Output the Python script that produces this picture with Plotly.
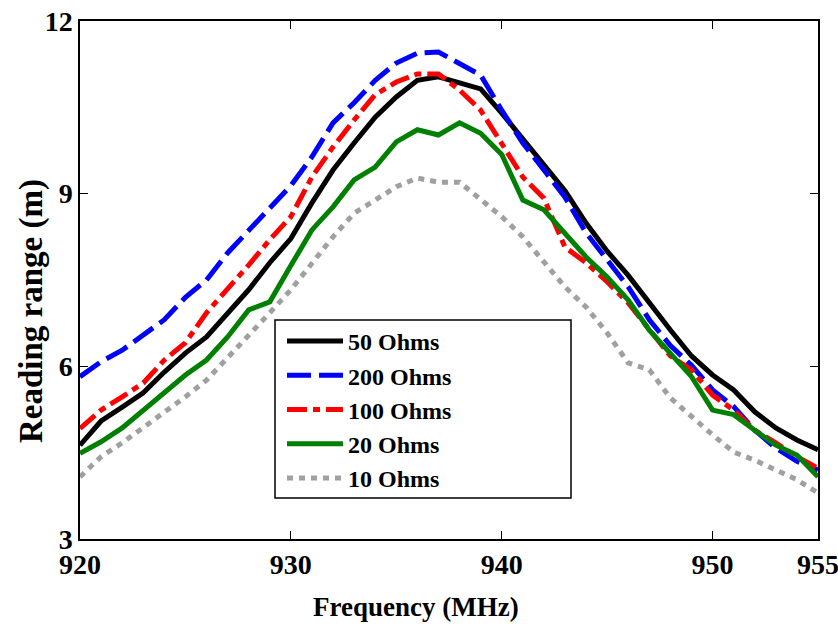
import plotly.graph_objects as go

freq = list(range(920, 956))

ohm50 = [4.63, 5.05, 5.29, 5.54, 5.90, 6.23, 6.51, 6.93, 7.33, 7.80, 8.22,
         8.84, 9.41, 9.88, 10.33, 10.68, 10.97, 11.03, 10.92, 10.82, 10.40,
         9.95, 9.53, 9.05, 8.49, 8.00, 7.58, 7.10, 6.63, 6.18, 5.85,
         5.59, 5.21, 4.93, 4.72, 4.55]
ohm200 = [5.82, 6.08, 6.28, 6.54, 6.81, 7.20, 7.50, 7.97, 8.37, 8.77, 9.14,
          9.64, 10.23, 10.58, 10.97, 11.27, 11.44, 11.46, 11.27, 11.06, 10.45,
          9.88, 9.41, 8.94, 8.32, 7.85, 7.38, 6.81, 6.36, 6.02, 5.59,
          5.30, 4.89, 4.58, 4.35, 4.20]
ohm100 = [4.92, 5.24, 5.47, 5.71, 6.11, 6.41, 6.93, 7.33, 7.76, 8.20, 8.60,
          9.29, 9.81, 10.28, 10.72, 10.94, 11.08, 11.08, 10.80, 10.45, 9.88,
          9.29, 8.92, 8.07, 7.80, 7.47, 7.10, 6.63, 6.18, 5.94, 5.50,
          5.24, 4.89, 4.67, 4.43, 4.23]
ohm20 = [4.49, 4.69, 4.93, 5.24, 5.55, 5.85, 6.11, 6.51, 6.98, 7.12, 7.75,
         8.37, 8.77, 9.24, 9.46, 9.90, 10.11, 10.02, 10.23, 10.05, 9.68,
         8.89, 8.72, 8.32, 7.90, 7.55, 7.15, 6.63, 6.23, 5.82, 5.24,
         5.16, 4.89, 4.63, 4.46, 4.08]
ohm10 = [4.08, 4.43, 4.67, 4.93, 5.19, 5.47, 5.76, 6.15, 6.51, 6.93, 7.33,
         7.80, 8.25, 8.66, 8.89, 9.12, 9.27, 9.20, 9.20, 8.89, 8.60,
         8.25, 7.80, 7.38, 7.03, 6.58, 6.06, 5.94, 5.45, 5.12, 4.81,
         4.51, 4.37, 4.20, 4.03, 3.80]

series = [
    ("50 Ohms", ohm50, "black", "solid"),
    ("200 Ohms", ohm200, "#0000ff", "24px,8px"),
    ("100 Ohms", ohm100, "#ff0000", "20px,6px,7px,6px"),
    ("20 Ohms", ohm20, "#008000", "solid"),
    ("10 Ohms", ohm10, "#a0a0a0", "6px,6px"),
]

x_ticks = [920, 930, 940, 950, 955]
y_ticks = [3, 6, 9, 12]

fig = go.Figure()
for name, ys, color, dash in series:
    fig.add_trace(go.Scatter(x=freq, y=ys, mode="lines", name=name,
                             line=dict(color=color, width=5, dash=dash)))

font_family = "Liberation Serif"
axis_common = dict(
    ticks="inside", ticklen=8, tickwidth=1.2, tickcolor="black",
    showline=True, linecolor="black", linewidth=1.5, mirror="ticks",
    showgrid=False, zeroline=False, automargin=False,
    tickfont=dict(family=font_family, size=28, weight="bold"),
)

# legend frame (paper coordinates)
W, H, L, T, B, R = 838, 630, 80, 21, 91, 20
pw, ph = W - L - R, H - T - B
def px(xp):
    return (xp - L) / pw
def py(yp):
    return (H - B - yp) / ph

fig.update_layout(
    width=W, height=H,
    margin=dict(l=L, r=R, t=T, b=B),
    plot_bgcolor="white", paper_bgcolor="white",
    font=dict(family=font_family, color="black"),
    showlegend=True,
    legend=dict(
        x=px(282), y=py(319), xanchor="left", yanchor="top",
        bgcolor="rgba(0,0,0,0)", borderwidth=0,
        font=dict(family=font_family, size=24, color="black", weight="bold"),
        itemwidth=56, tracegroupgap=0,
    ),
    shapes=[
        dict(type="rect", xref="paper", yref="paper",
             x0=px(275), x1=px(571), y0=py(498), y1=py(320),
             fillcolor="white", line=dict(color="black", width=1.5),
             layer="above"),
    ],
    xaxis=dict(range=[920, 955], tickvals=x_ticks,
               ticktext=[str(v) for v in x_ticks],
               ticklabeloverflow="allow", **axis_common),
    yaxis=dict(range=[3, 12], tickvals=y_ticks,
               ticktext=[str(v) for v in y_ticks], **axis_common),
    annotations=[
        dict(text="<b>Frequency (MHz)</b>", xref="paper", yref="paper",
             x=px(416), y=py(607),
             xanchor="center", yanchor="middle", showarrow=False,
             font=dict(family=font_family, size=27, color="black")),
        dict(text="<b>Reading range (m)</b>", xref="paper", yref="paper",
             x=px(31), y=py(311), textangle=-90,
             xanchor="center", yanchor="middle", showarrow=False,
             font=dict(family=font_family, size=33, color="black")),
    ],
)

fig.write_html("out.html")
